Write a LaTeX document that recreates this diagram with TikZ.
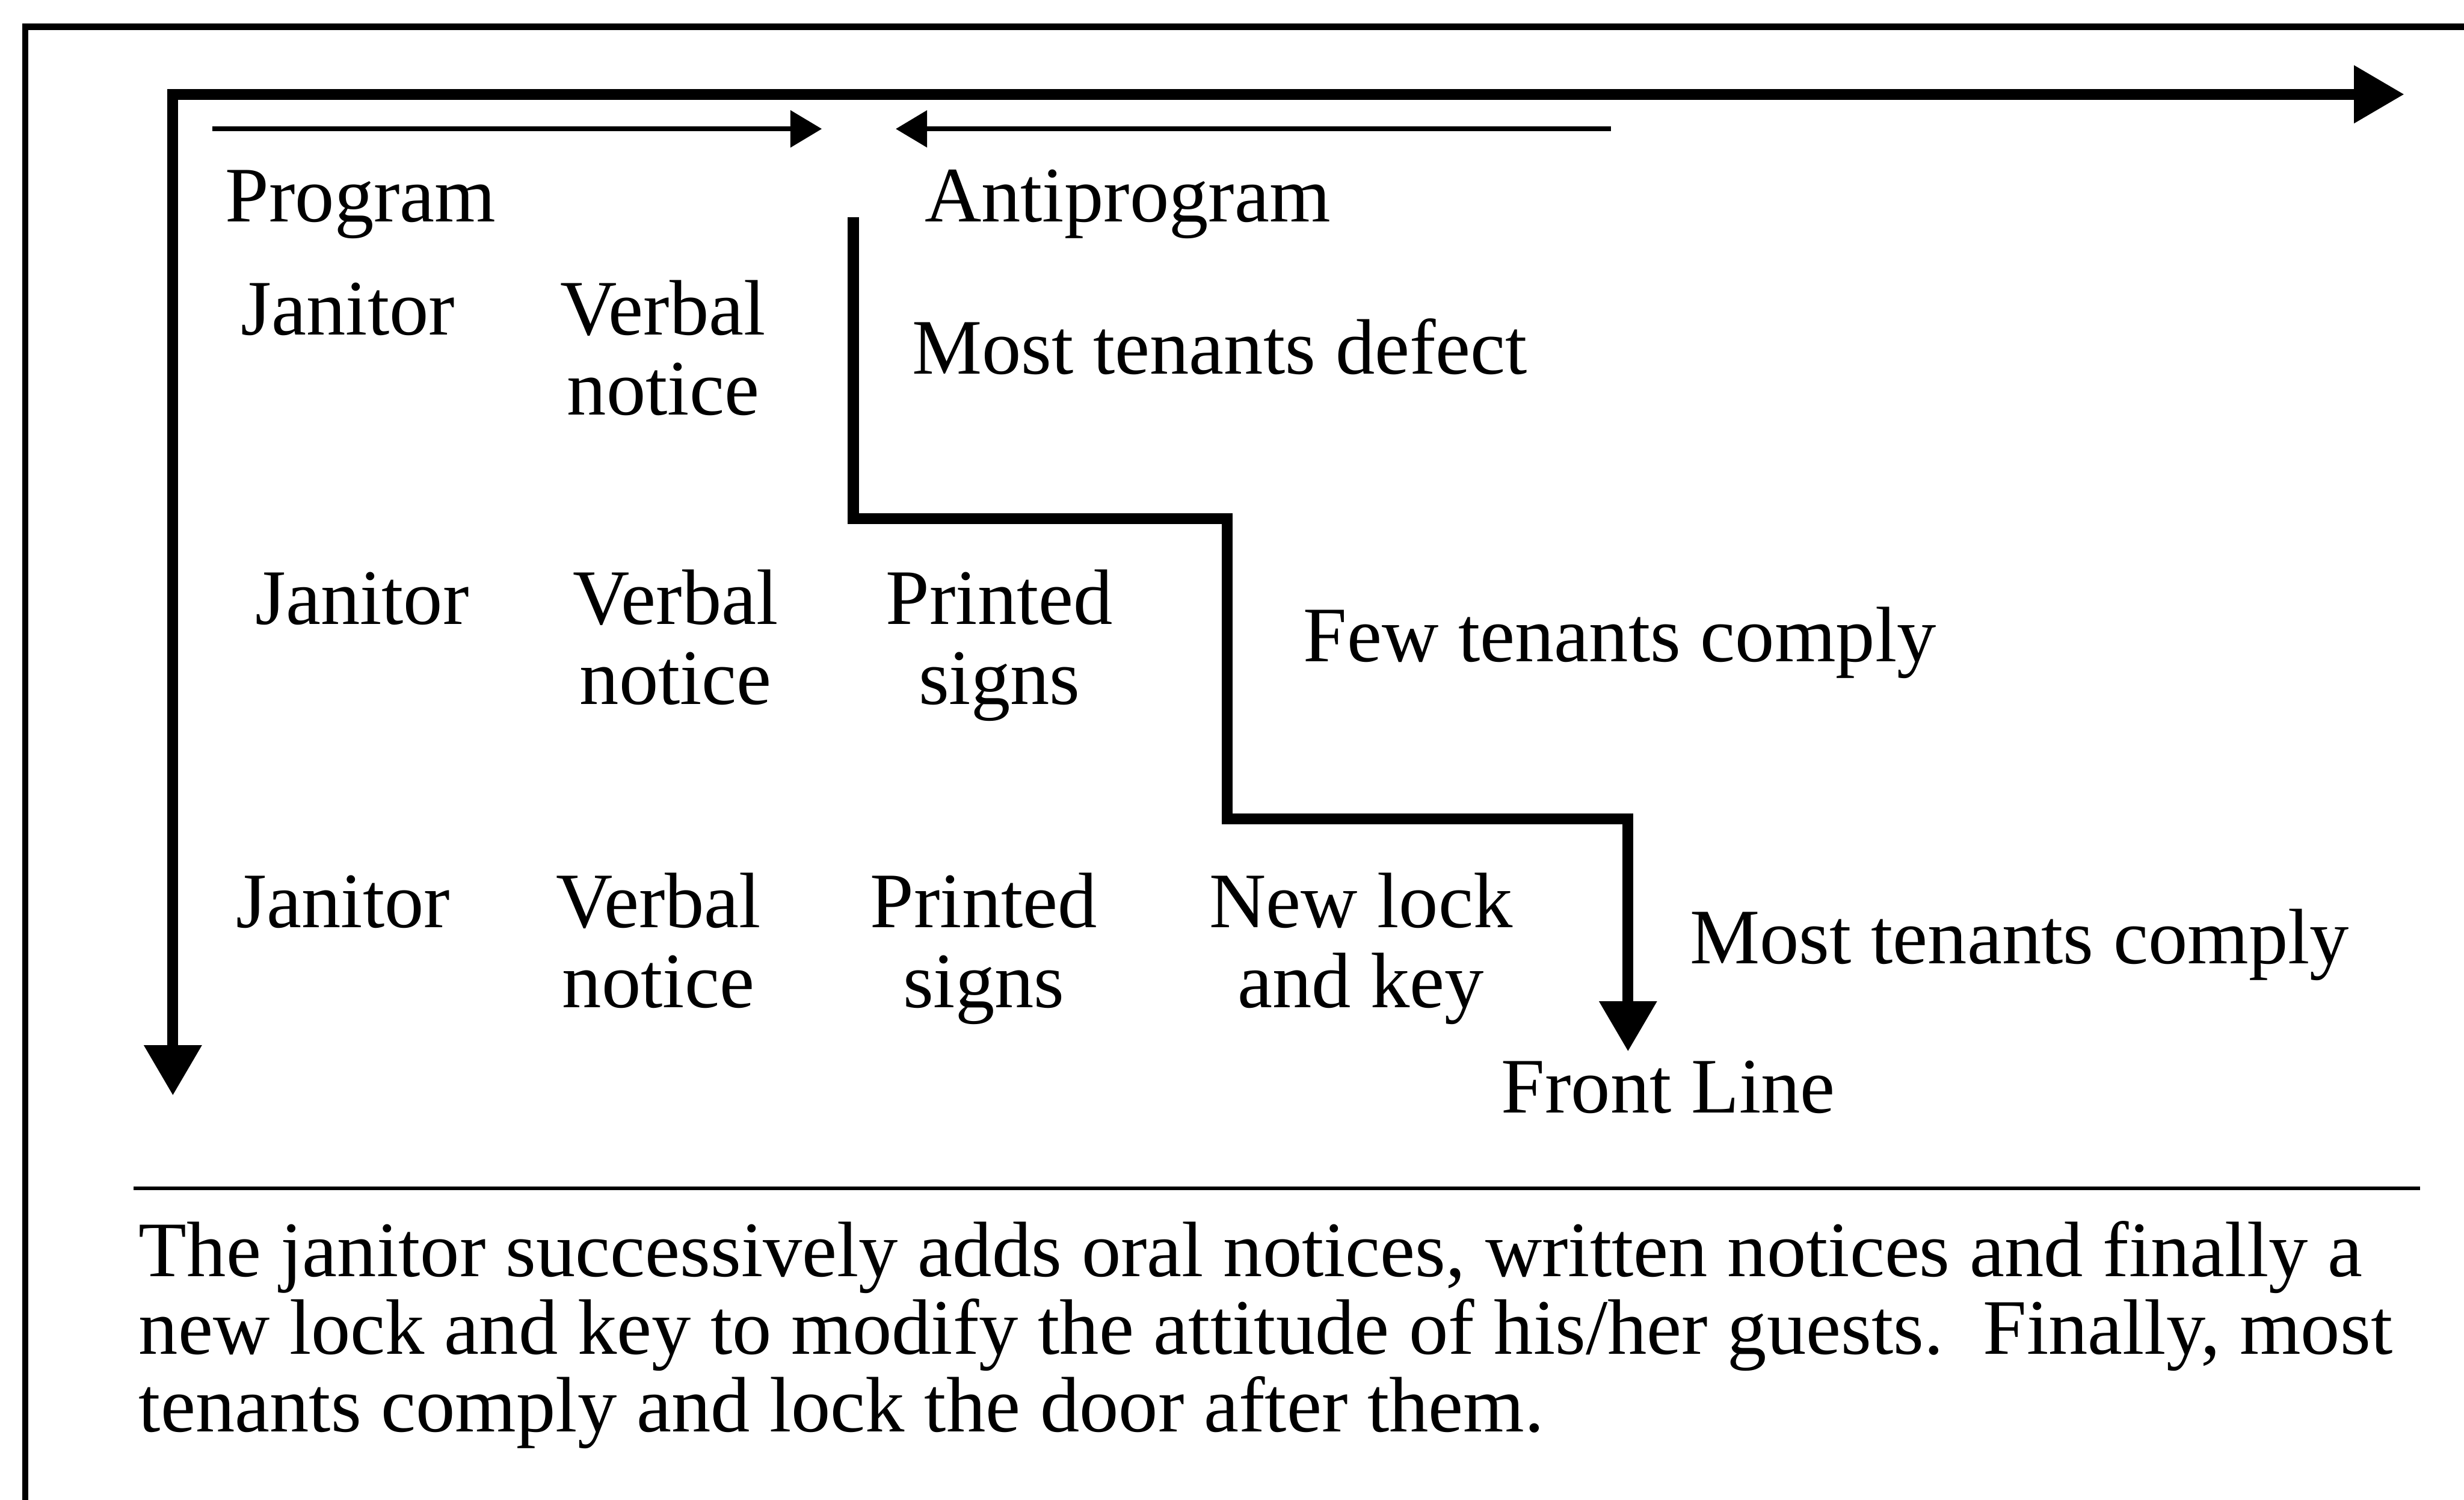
\documentclass[tikz,border=0pt]{standalone}
\usepackage{fontspec}
\setmainfont{Liberation Serif}
\usetikzlibrary{arrows.meta}
\begin{document}
\begin{tikzpicture}[x=0.5pt,y=-0.5pt,
  lbl/.style={inner sep=0pt, anchor=base west, font=\fontsize{25}{25}\selectfont},
  % two-line labels: the base anchor sits on the baseline of the last line
  stack/.style={inner sep=0pt, anchor=base, align=center, font=\fontsize{25}{25.5}\selectfont},
  frameline/.style={line width=2pt},
  heavy/.style={line width=3.5pt, line join=miter},
  light/.style={line width=1.6pt},
  rule/.style={line width=1pt},
  bighead/.style={-{Triangle[length=16pt,width=17.5pt]}},
  smallhead/.style={-{Triangle[length=10pt,width=11.5pt]}}
]
\useasboundingbox (0,0) rectangle (1568,954);

% outer frame (runs past the page on the right and at the bottom)
\coordinate (fbl) at (16,980);
\coordinate (ftl) at (16,17);
\coordinate (ftr) at (1600,17);
\draw[frameline, line join=miter] (fbl) -- (ftl) -- (ftr);

% time axis and depth axis
\coordinate (axo) at (110,60);
\coordinate (axr) at (1530,60);
\coordinate (axd) at (110,697);
\draw[heavy, {Triangle[length=16pt,width=17.5pt]}-{Triangle[length=16pt,width=17.5pt]}] (axd) -- (axo) -- (axr);

% program / antiprogram arrows
\coordinate (pa) at (135,82);
\coordinate (pb) at (523,82);
\coordinate (qa) at (1025,82);
\coordinate (qb) at (570,82);
\draw[light, smallhead] (pa) -- (pb);
\draw[light, smallhead] (qa) -- (qb);

% headings
\node[lbl] (prog) at (143,141) {Program};
\node[lbl] (anti) at (588,141) {Antiprogram};

% front line staircase
\coordinate (s0) at (543,138);
\coordinate (s1) at (543,330);
\coordinate (s2) at (781,330);
\coordinate (s3) at (781,521);
\coordinate (s4) at (1036,521);
\coordinate (s5) at (1036,669);
\draw[heavy, bighead] (s0) -- (s1) -- (s2) -- (s3) -- (s4) -- (s5);

% first row
\node[lbl] (j1) at (153,213) {Janitor};
\node[stack] (v1) at (422,264) {Verbal\\notice};
\node[lbl] (o1) at (580,238) {Most tenants defect};

% second row
\node[lbl] (j2) at (162,397) {Janitor};
\node[stack] (v2) at (430,448) {Verbal\\notice};
\node[stack] (p2) at (636,448) {Printed\\signs};
\node[lbl] (o2) at (829,421) {Few tenants comply};

% third row
\node[lbl] (j3) at (150,590) {Janitor};
\node[stack] (v3) at (419,641) {Verbal\\notice};
\node[stack] (p3) at (626,641) {Printed\\signs};
\node[stack] (k3) at (866,641) {New lock\\and key};
\node[lbl] (o3) at (1075,613) {Most tenants comply};

\node[lbl] (front) at (955,708) {Front Line};

% caption
\coordinate (ra) at (85,756);
\coordinate (rb) at (1540,756);
\draw[rule] (ra) -- (rb);
\node[lbl, align=left, font=\fontsize{25}{24.75}\selectfont] (cap) at (88,911)
  {The janitor successively adds oral notices, written notices and finally a\\
   new lock and key to modify the attitude of his/her guests.\ \ Finally, most\\
   tenants comply and lock the door after them.};
\end{tikzpicture}
\end{document}
